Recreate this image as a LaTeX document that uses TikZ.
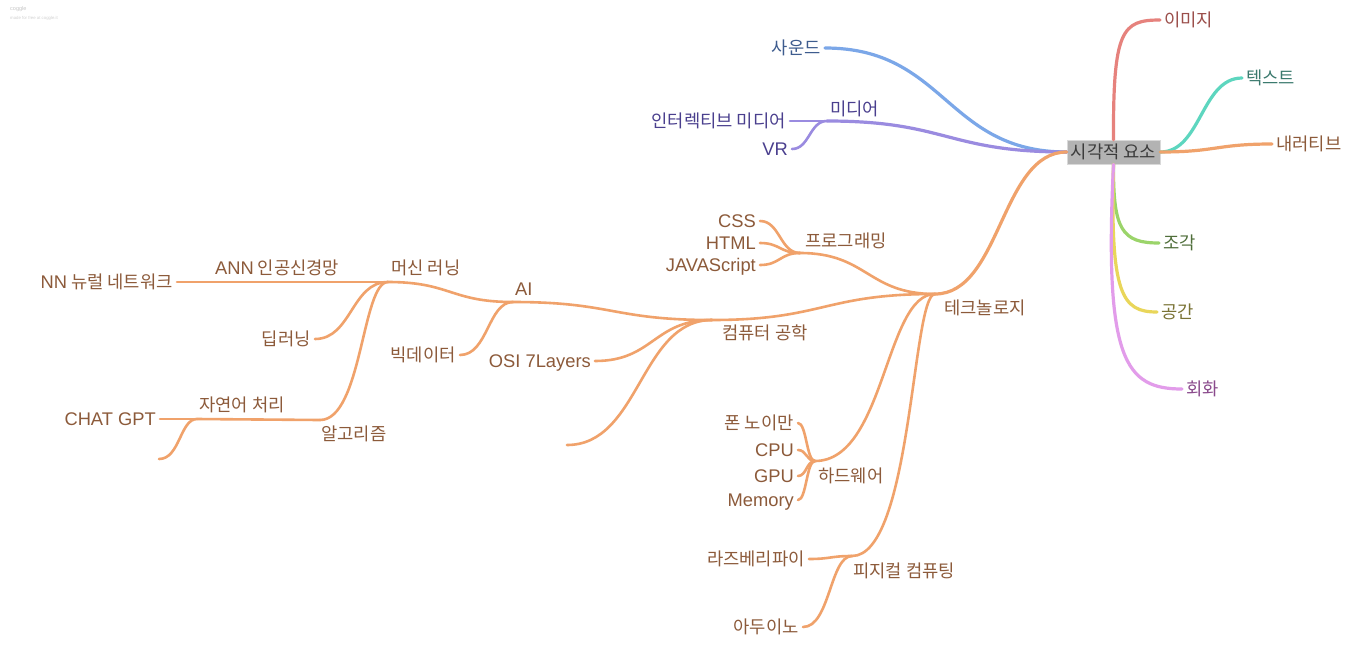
\documentclass[tikz,border=0pt]{standalone}
\usepackage{fontspec}
\setmainfont{Noto Sans CJK KR}
\newfontfamily\latf[Scale=1.035]{Liberation Sans}
\newfontfamily\smallf{Liberation Sans}
\newcommand\lat[1]{{\latf #1}}
\usetikzlibrary{calc}
\definecolor{imgL}{HTML}{E6827D}\definecolor{imgT}{HTML}{9B4E4A}
\definecolor{txtL}{HTML}{5DD6BF}\definecolor{txtT}{HTML}{3B7A6E}
\definecolor{orL}{HTML}{F0A26B}\definecolor{orT}{HTML}{8C5A3A}
\definecolor{sndL}{HTML}{7BA7E8}\definecolor{sndT}{HTML}{3E5C8E}
\definecolor{medL}{HTML}{9A8BE0}\definecolor{medT}{HTML}{4A3F8E}
\definecolor{scL}{HTML}{9BD46A}\definecolor{scT}{HTML}{4F6E3A}
\definecolor{spL}{HTML}{E9D65A}\definecolor{spT}{HTML}{7A7335}
\definecolor{paL}{HTML}{E29CEA}\definecolor{paT}{HTML}{8A4A8C}
\definecolor{rootF}{HTML}{B3B3B3}\definecolor{rootT}{HTML}{3B3B3B}
\tikzset{
  hc/.style={to path={let \p1=(\tikztostart),\p2=(\tikztotarget) in
     .. controls ({(\x1+\x2)/2},\y1) and ({(\x1+\x2)/2},\y2) .. (\tikztotarget)}},
  hcm/.style={to path={let \p1=(\tikztostart),\p2=(\tikztotarget) in
     .. controls (#1pt,\y1) and (#1pt,\y2) .. (\tikztotarget)}},
  br/.style={draw=#1, line width=2.6pt, line cap=round},
  mainbr/.style={draw=#1, line width=3.2pt, line cap=round},
  leaf/.style={inner xsep=4pt, inner ysep=0pt, text height=13pt, text depth=1pt,
     font=\fontsize{17.7}{19}\selectfont, text=#1},
  lbl/.style={inner sep=0pt, text height=13pt, text depth=1pt,
     font=\fontsize{17.7}{19}\selectfont, text=#1, anchor=west},
}
\begin{document}
\begin{tikzpicture}[x=1pt,y=-1pt]
\useasboundingbox[fill=white] (0,0) rectangle (1353,649);
% watermark
\node[anchor=west, inner sep=0pt, text=black!22, font=\smallf\fontsize{5.5}{6}\selectfont] (cog) at (10,9) {coggle};
\node[anchor=west, inner sep=0pt, text=black!18, font=\smallf\fontsize{4.3}{5}\selectfont] (cogm) at (10,18) {made for free at coggle.it};

% root
\node[fill=rootF, draw=black!15, line width=0.6pt, minimum width=93pt, minimum height=24pt, inner sep=0pt,
  text=rootT, font=\fontsize{17.7}{19}\selectfont] (root) at (1113.5,152) {시각적 요소};

% right-side leaves
\node[leaf=imgT, anchor=west] (img) at (1160,20) {이미지};
\node[leaf=txtT, anchor=west] (txt) at (1242,78) {텍스트};
\node[leaf=orT, anchor=west] (nar) at (1272,144) {내러티브};
\node[leaf=scT, anchor=west] (scul) at (1159,243) {조각};
\node[leaf=spT, anchor=west] (spc) at (1157,312) {공간};
\node[leaf=paT, anchor=west] (paint) at (1182,389) {회화};

% sound and media
\node[leaf=sndT, anchor=east] (sound) at (825,48) {사운드};
\coordinate (mj) at (827,121);
\node[lbl=medT] (media) at (830,109) {미디어};
\node[leaf=medT, anchor=east] (inter) at (790,121) {인터렉티브 미디어};
\node[leaf=medT, anchor=east] (vr) at (792,149) {\lat{VR}};

% technology
\coordinate (tj) at (935,294);
\node[lbl=orT] (tech) at (944,308) {테크놀로지};
\coordinate (pj) at (800,253);
\node[lbl=orT] (prog) at (805,241) {프로그래밍};
\node[leaf=orT, anchor=east] (css) at (760,221) {\lat{CSS}};
\node[leaf=orT, anchor=east] (html) at (760,243) {\lat{HTML}};
\node[leaf=orT, anchor=east] (js) at (760,265) {\lat{JAVAScript}};

\coordinate (cj) at (712,320);
\node[lbl=orT] (comp) at (722,333) {컴퓨터 공학};
\coordinate (aj) at (513,302);
\node[lbl=orT] (ai) at (515,289) {\lat{AI}};
\coordinate (mlj) at (388,282);
\node[lbl=orT] (ml) at (391,268) {머신 러닝};
\coordinate (annj) at (214,282);
\node[lbl=orT] (ann) at (215,268) {\lat{ANN} 인공신경망};
\node[leaf=orT, anchor=east] (nn) at (177,282) {\lat{NN} 뉴럴 네트워크};
\node[leaf=orT, anchor=east] (deep) at (315,339) {딥러닝};
\coordinate (alj) at (320,420);
\node[lbl=orT] (algo) at (321,434) {알고리즘};
\coordinate (nj) at (197,419);
\node[lbl=orT] (nlp) at (199,405) {자연어 처리};
\node[leaf=orT, anchor=east] (chat) at (160,419) {\lat{CHAT GPT}};
\coordinate (e1) at (159,459);
\node[leaf=orT, anchor=east] (big) at (460,355) {빅데이터};
\node[leaf=orT, anchor=east] (osi) at (595,361) {\lat{OSI 7Layers}};
\coordinate (e2) at (567,445);

\coordinate (hj) at (815,461);
\node[lbl=orT] (hw) at (818,476) {하드웨어};
\node[leaf=orT, anchor=east] (von) at (798,423) {폰 노이만};
\node[leaf=orT, anchor=east] (cpu) at (798,450) {\lat{CPU}};
\node[leaf=orT, anchor=east] (gpu) at (798,476) {\lat{GPU}};
\node[leaf=orT, anchor=east] (mem) at (798,500) {\lat{Memory}};

\coordinate (phj) at (852,556);
\node[lbl=orT] (phys) at (853,571) {피지컬 컴퓨팅};
\node[leaf=orT, anchor=east] (rasp) at (809,559) {라즈베리파이};
\node[leaf=orT, anchor=east] (ard) at (803,627) {아두이노};

% connectors from root
\draw[mainbr=imgL] (root.north) .. controls (1113,30) and (1122,20) .. (img.west);
\draw[mainbr=txtL] (root.east) to[hc] (txt.west);
\draw[mainbr=orL] (root.east) to[hc] (nar.west);
\draw[mainbr=scL] (root.south) .. controls (1113,230) and (1122,243) .. (scul.west);
\draw[mainbr=spL] (root.south) .. controls (1110,295) and (1122,312) .. (spc.west);
\draw[mainbr=paL] (root.south) .. controls (1104,360) and (1125,389) .. (paint.west);
\draw[mainbr=sndL] (root.west) to[hc] (sound.east);
\draw[mainbr=medL] (root.west) to[hc] (mj);
\draw[mainbr=orL] (root.west) to[hc] (tj);

% media children
\draw[br=medL] (mj) -- (inter.east);
\draw[br=medL] (mj) to[hc] (vr.east);

% technology children
\draw[br=orL] (tj) to[hc] (pj);
\draw[br=orL] (pj) to[hc] (css.east);
\draw[br=orL] (pj) to[hc] (html.east);
\draw[br=orL] (pj) to[hc] (js.east);
\draw[br=orL] (tj) to[hc] (cj);
\draw[br=orL] (tj) to[hcm=885] (hj);
\draw[br=orL] (tj) to[hcm=912] (phj);

\draw[br=orL] (cj) to[hc] (aj);
\draw[br=orL] (cj) to[hc] (osi.east);
\draw[br=orL] (cj) to[hcm=640] (e2);
\draw[br=orL] (aj) to[hc] (mlj);
\draw[br=orL] (aj) to[hcm=488] (big.east);
\draw[br=orL] (mlj) -- (annj);
\draw[br=orL] (annj) -- (nn.east);
\draw[br=orL] (mlj) to[hc] (deep.east);
\draw[br=orL] (mlj) to[hcm=362] (alj);
\draw[br=orL] (alj) to[hc] (nj);
\draw[br=orL] (nj) -- (chat.east);
\draw[br=orL] (nj) to[hcm=180] (e1);

\draw[br=orL] (hj) to[hc] (von.east);
\draw[br=orL] (hj) to[hc] (cpu.east);
\draw[br=orL] (hj) to[hc] (gpu.east);
\draw[br=orL] (hj) to[hc] (mem.east);
\draw[br=orL] (phj) to[hc] (rasp.east);
\draw[br=orL] (phj) to[hcm=830] (ard.east);
\end{tikzpicture}
\end{document}
